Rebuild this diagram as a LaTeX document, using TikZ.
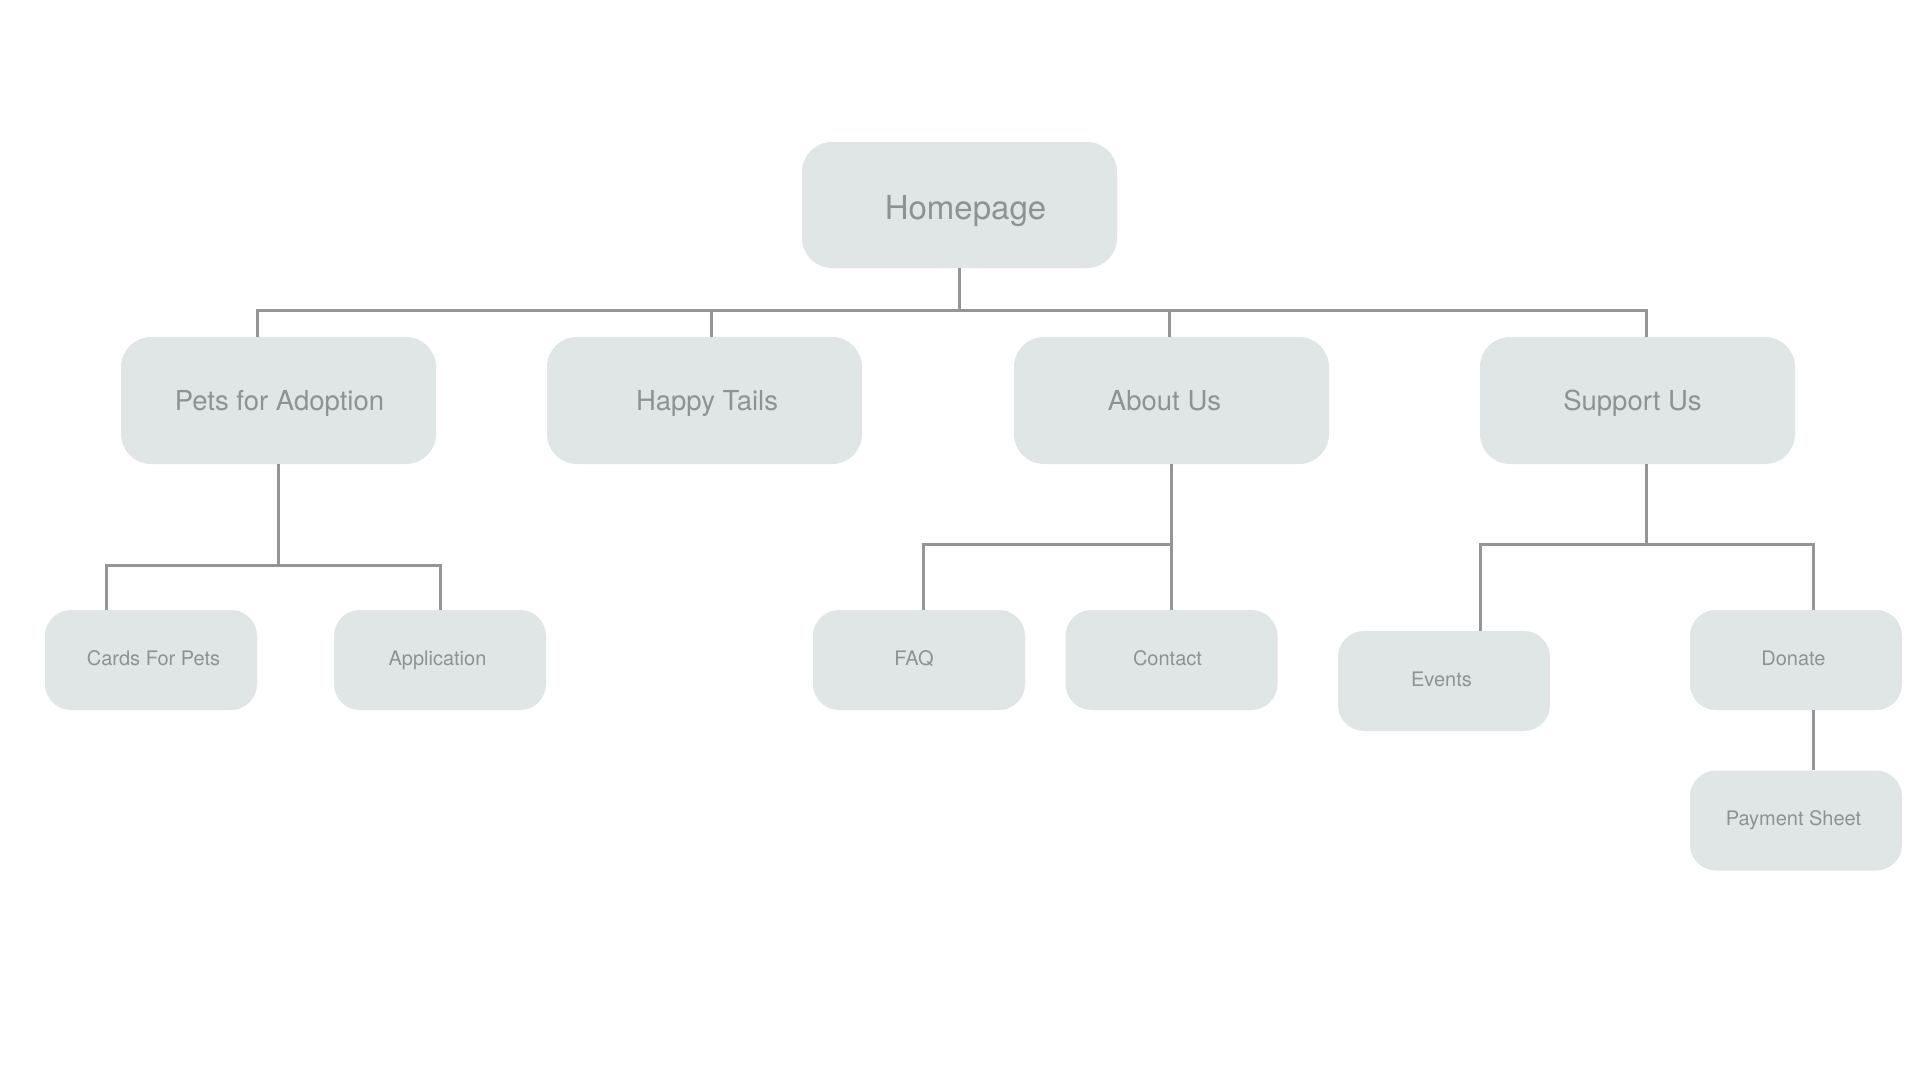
\documentclass[tikz,border=0pt]{standalone}
\usepackage{fontspec}
\setmainfont{TeX Gyre Heros}
\definecolor{boxfill}{HTML}{E0E6E6}
\definecolor{txt}{HTML}{8D9292}
\definecolor{conncol}{HTML}{939596}
\begin{document}
\begin{tikzpicture}[x=1pt,y=-1pt,
  box/.style={rectangle, rounded corners=30pt, fill=boxfill, text=txt, inner sep=0pt, text depth=0pt},
  bigbox/.style={box, minimum width=315pt, minimum height=126pt, text height=28.8pt, font=\fontsize{33}{40}\selectfont},
  midbox/.style={box, minimum width=315pt, minimum height=127pt, text height=19.8pt, font=\fontsize{27.5}{33}\selectfont},
  smallbox/.style={box, rounded corners=26pt, minimum width=212pt, minimum height=100pt, text height=10.4pt, font=\fontsize{20}{24}\selectfont},
  conn/.style={draw=conncol, line width=3pt}]
\fill[white] (0,0) rectangle (1920,1080);
\useasboundingbox (0,0) rectangle (1920,1080);

\node[bigbox] (home) at (959.5,205) {\hspace*{12pt}Homepage};
\node[midbox] (pets) at (278.5,400.5) {\hspace*{2pt}Pets for Adoption};
\node[midbox] (happy) at (704.5,400.5) {\hspace*{5pt}Happy Tails};
\node[midbox] (about) at (1171.5,400.5) {\hspace*{-14pt}About Us};
\node[midbox] (support) at (1637.5,400.5) {\hspace*{-10pt}Support Us};

\node[smallbox] (cards) at (151,660) {\hspace*{5pt}Cards For Pets};
\node[smallbox] (app) at (440,660) {\hspace*{-5pt}Application};
\node[smallbox] (faq) at (919,660) {\hspace*{-10pt}FAQ};
\node[smallbox] (contact) at (1171.5,660) {\hspace*{-8pt}Contact};
\node[smallbox] (events) at (1444,681) {\hspace*{-5pt}Events};
\node[smallbox] (donate) at (1796,660) {\hspace*{-5pt}Donate};
\node[smallbox] (payment) at (1796,820.5) {\hspace*{-5pt}Payment Sheet};

\coordinate (bus) at (0,310);
\coordinate (pj) at (278.5,565);
\coordinate (aj) at (1171.5,544);
\coordinate (sj) at (1646,544);

% top level
\draw[conn] (home.south) -- (home.south |- bus);
\draw[conn] ([xshift=-21.5pt]pets.north) -- ([xshift=-21.5pt]pets.north |- bus) -- ([xshift=8.5pt]support.north |- bus) -- ([xshift=8.5pt]support.north);
\draw[conn] ([xshift=6.5pt]happy.north) -- ([xshift=6.5pt]happy.north |- bus);
\draw[conn] ([xshift=-2.5pt]about.north) -- ([xshift=-2.5pt]about.north |- bus);

% pets
\draw[conn] (pets.south) -- (pj);
\draw[conn] ([xshift=-44.5pt]cards.north) -- ([xshift=-44.5pt]cards.north |- pj) -- (app.north |- pj) -- (app.north);

% about
\draw[conn] (about.south) -- (contact.north);
\draw[conn] ([xshift=4pt]faq.north) -- ([xshift=4pt]faq.north |- aj) -- (aj);

% support
\draw[conn] ([xshift=8.5pt]support.south) -- (sj);
\draw[conn] ([xshift=36pt]events.north) -- ([xshift=36pt]events.north |- sj) -- ([xshift=17pt]donate.north |- sj) -- ([xshift=17pt]donate.north);
\draw[conn] ([xshift=17pt]donate.south) -- ([xshift=17pt]payment.north);
\end{tikzpicture}
\end{document}
